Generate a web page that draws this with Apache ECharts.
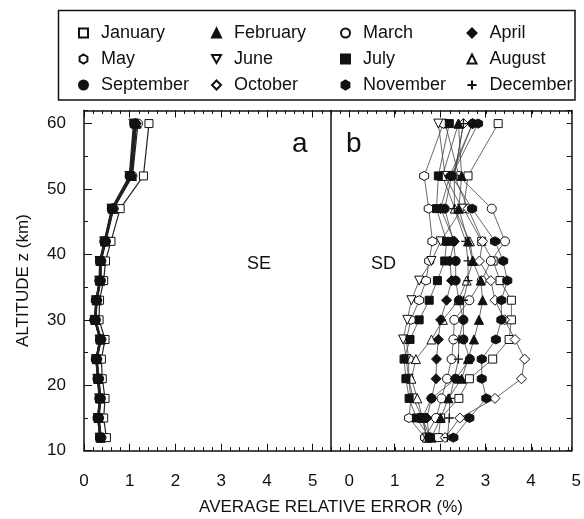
<!DOCTYPE html>
<html>
<head>
<meta charset="utf-8">
<script src="https://cdn.jsdelivr.net/npm/echarts@6/dist/echarts.min.js"></script>
<style>
  html, body { margin: 0; padding: 0; background: #fff; }
  #chart { width: 584px; height: 519px; }
</style>
</head>
<body>
<div id="chart"></div>
<script>
// Altitude levels (km)
const altitudes = [12, 15, 18, 21, 24, 27, 30, 33, 36, 39, 42, 47, 52, 60];

const months = ['January', 'February', 'March', 'April', 'May', 'June',
  'July', 'August', 'September', 'October', 'November', 'December'];

// Panel a: SE (%) per month, one value per altitude level
const seJanuary   = [0.49, 0.43, 0.46, 0.40, 0.38, 0.46, 0.33, 0.34, 0.43, 0.47, 0.59, 0.79, 1.30, 1.42];
const seFebruary  = [0.37, 0.32, 0.36, 0.32, 0.28, 0.37, 0.25, 0.28, 0.36, 0.37, 0.47, 0.64, 1.05, 1.15];
const seMarch     = [0.38, 0.33, 0.37, 0.33, 0.29, 0.38, 0.26, 0.29, 0.37, 0.38, 0.48, 0.65, 1.06, 1.18];
const seApril     = [0.36, 0.31, 0.35, 0.31, 0.27, 0.36, 0.24, 0.27, 0.35, 0.36, 0.46, 0.62, 1.02, 1.12];
const seMay       = [0.35, 0.30, 0.34, 0.30, 0.26, 0.35, 0.23, 0.26, 0.34, 0.35, 0.45, 0.61, 1.00, 1.10];
const seJune      = [0.34, 0.30, 0.33, 0.29, 0.26, 0.34, 0.23, 0.26, 0.33, 0.34, 0.44, 0.60, 0.99, 1.08];
const seJuly      = [0.35, 0.31, 0.34, 0.30, 0.27, 0.35, 0.24, 0.27, 0.34, 0.35, 0.45, 0.61, 1.01, 1.10];
const seAugust    = [0.36, 0.32, 0.35, 0.31, 0.28, 0.36, 0.25, 0.28, 0.35, 0.36, 0.46, 0.63, 1.03, 1.13];
const seSeptember = [0.35, 0.30, 0.34, 0.30, 0.26, 0.35, 0.23, 0.26, 0.34, 0.35, 0.45, 0.62, 1.01, 1.11];
const seOctober   = [0.37, 0.33, 0.36, 0.32, 0.28, 0.37, 0.25, 0.28, 0.36, 0.37, 0.47, 0.64, 1.04, 1.14];
const seNovember  = [0.36, 0.31, 0.35, 0.31, 0.27, 0.36, 0.24, 0.27, 0.35, 0.36, 0.46, 0.62, 1.02, 1.12];
const seDecember  = [0.37, 0.32, 0.36, 0.32, 0.28, 0.37, 0.25, 0.28, 0.36, 0.37, 0.47, 0.63, 1.04, 1.14];

// Panel b: SD (%) per month
const sdJanuary   = [1.95, 2.00, 2.40, 2.63, 3.14, 3.50, 3.55, 3.55, 3.30, 3.15, 2.90, 2.50, 2.60, 3.26];
const sdFebruary  = [1.80, 2.00, 2.17, 2.46, 2.60, 2.73, 2.84, 2.92, 2.88, 2.70, 2.60, 2.40, 2.46, 2.39];
const sdMarch     = [1.66, 1.90, 2.02, 2.14, 2.24, 2.28, 2.30, 2.63, 2.90, 3.10, 3.41, 3.12, 2.40, 2.10];
const sdApril     = [1.75, 1.70, 1.80, 1.90, 1.91, 1.95, 2.00, 2.13, 2.24, 2.20, 2.30, 2.00, 2.20, 2.70];
const sdMay       = [1.66, 1.31, 1.35, 1.30, 1.30, 1.25, 1.35, 1.53, 1.68, 1.75, 1.82, 1.74, 1.64, 2.06];
const sdJune      = [1.70, 1.60, 1.40, 1.30, 1.25, 1.18, 1.27, 1.36, 1.53, 1.80, 2.00, 2.47, 2.10, 1.95];
const sdJuly      = [1.75, 1.47, 1.31, 1.24, 1.20, 1.33, 1.53, 1.75, 1.93, 2.09, 2.13, 1.91, 1.95, 2.19];
const sdAugust    = [1.70, 1.60, 1.49, 1.36, 1.46, 1.80, 2.05, 2.39, 2.57, 2.71, 2.64, 2.31, 2.04, 2.39];
const sdSeptember = [1.77, 1.60, 1.80, 2.33, 2.64, 2.50, 2.50, 2.40, 2.33, 2.33, 2.28, 2.09, 2.24, 2.70];
const sdOctober   = [2.10, 2.42, 3.19, 3.77, 3.84, 3.63, 3.40, 3.19, 3.10, 2.85, 2.92, 2.60, 2.30, 2.50];
const sdNovember  = [2.28, 2.63, 3.00, 2.90, 2.90, 3.21, 3.33, 3.33, 3.46, 3.37, 3.19, 2.69, 2.24, 2.82];
const sdDecember  = [2.15, 2.19, 2.20, 2.30, 2.39, 2.40, 2.50, 2.50, 2.60, 2.60, 2.55, 2.30, 2.30, 2.50];

const seValues = [seJanuary, seFebruary, seMarch, seApril, seMay, seJune,
  seJuly, seAugust, seSeptember, seOctober, seNovember, seDecember];
const sdValues = [sdJanuary, sdFebruary, sdMarch, sdApril, sdMay, sdJune,
  sdJuly, sdAugust, sdSeptember, sdOctober, sdNovember, sdDecember];

// Axis tick labels
const xTickLabels = [0, 1, 2, 3, 4, 5];
const yTickLabels = [10, 20, 30, 40, 50, 60];

// Marker shapes, one per month
const HEX = 'path://M0,-1L0.866,-0.5L0.866,0.5L0,1L-0.866,0.5L-0.866,-0.5Z';
const DOWN_TRI = 'path://M-1,-0.9L1,-0.9L0,0.9Z';
const PLUS = 'path://M-1,0L1,0M0,-1L0,1';
const markers = [
  { symbol: 'rect', filled: false },       // January
  { symbol: 'triangle', filled: true },    // February
  { symbol: 'circle', filled: false },     // March
  { symbol: 'diamond', filled: true },     // April
  { symbol: HEX, filled: false },          // May
  { symbol: DOWN_TRI, filled: false },     // June
  { symbol: 'rect', filled: true },        // July
  { symbol: 'triangle', filled: false },   // August
  { symbol: 'circle', filled: true },      // September
  { symbol: 'diamond', filled: false },    // October
  { symbol: HEX, filled: true },           // November
  { symbol: PLUS, filled: false, plus: true } // December
];

const FONT = '"Liberation Sans", Arial, sans-serif';
const INK = '#111';

const PLOT_TOP = 110.5;
const PLOT_H = 340.2;

function itemStyleFor(m) {
  if (m.plus) return { color: 'none', borderColor: INK, borderWidth: 1.3 };
  return m.filled
    ? { color: INK, borderColor: INK, borderWidth: 1 }
    : { color: '#fff', borderColor: INK, borderWidth: 1 };
}

function makeSeries(values, xIdx, yIdx, lineWidth, lineColor) {
  return months.map((name, i) => ({
    name: name,
    type: 'line',
    xAxisIndex: xIdx,
    yAxisIndex: yIdx,
    data: altitudes.map((a, k) => [values[i][k], a]),
    symbol: markers[i].symbol,
    symbolSize: markers[i].symbol === 'rect' ? 8 : (markers[i].symbol === 'diamond' ? 10 : 9),
    showAllSymbol: true,
    lineStyle: { color: lineColor, width: lineWidth },
    itemStyle: itemStyleFor(markers[i]),
    emphasis: { disabled: true },
    animation: false,
    z: markers[i].filled ? 3 : 2
  }));
}

// Frame axes with minor ticks every 0.2
function frameX(grid, pos, min, max) {
  return {
    type: 'value', gridIndex: grid, position: pos, min: min, max: max, interval: 0.2,
    axisLine: { show: true, onZero: false, lineStyle: { color: INK, width: 1.5 } },
    axisTick: { show: true, inside: true, length: 3.5, lineStyle: { color: INK, width: 1 } },
    axisLabel: { show: false },
    splitLine: { show: false }
  };
}
// Overlay axes carrying integer ticks and labels
function majorX(grid, pos, withLabels, tickValues) {
  return {
    type: 'value', gridIndex: grid, position: pos, min: 0, max: 5, interval: 1,
    axisLine: { show: false },
    axisTick: { show: true, inside: true, length: 7, lineStyle: { color: INK, width: 1 },
      customValues: tickValues },
    axisLabel: withLabels
      ? { show: true, customValues: xTickLabels, margin: 22, fontFamily: FONT, fontSize: 17, color: INK }
      : { show: false },
    splitLine: { show: false }
  };
}

const option = {
  backgroundColor: '#fff',
  animation: false,
  grid: [
    { left: 84, top: PLOT_TOP, width: 247, height: PLOT_H },
    { left: 331, top: PLOT_TOP, width: 240.7, height: PLOT_H },
    { left: 84, top: PLOT_TOP, width: 228.7, height: PLOT_H },
    { left: 349.3, top: PLOT_TOP, width: 228.5, height: PLOT_H }
  ],
  xAxis: [
    frameX(0, 'bottom', 0, 5.4),
    frameX(0, 'top', 0, 5.4),
    frameX(1, 'bottom', -0.4, 4.87),
    frameX(1, 'top', -0.4, 4.87),
    majorX(2, 'bottom', true, [0, 1, 2, 3, 4, 5]),
    majorX(2, 'top', false, [0, 1, 2, 3, 4, 5]),
    majorX(3, 'bottom', true, [0, 1, 2, 3, 4]),
    majorX(3, 'top', false, [0, 1, 2, 3, 4])
  ],
  yAxis: [
    {
      type: 'value', gridIndex: 0, position: 'left', min: 10, max: 62, interval: 5,
      axisLine: { show: true, onZero: false, lineStyle: { color: INK, width: 1.5 } },
      axisTick: { show: true, inside: true, length: 4, lineStyle: { color: INK } },
      axisLabel: { show: true, customValues: yTickLabels, margin: 18, fontFamily: FONT, fontSize: 17, color: INK },
      splitLine: { show: false },
      name: 'ALTITUDE z (km)', nameLocation: 'middle', nameRotate: 90, nameGap: 52,
      nameTextStyle: { fontFamily: FONT, fontSize: 17, color: INK }
    },
    {
      type: 'value', gridIndex: 1, position: 'left', min: 10, max: 62, interval: 5,
      axisLine: { show: true, onZero: false, lineStyle: { color: INK, width: 1.5 } },
      axisTick: { show: false }, axisLabel: { show: false }, splitLine: { show: false }
    },
    {
      type: 'value', gridIndex: 1, position: 'right', min: 10, max: 62, interval: 5,
      axisLine: { show: true, onZero: false, lineStyle: { color: INK, width: 1.5 } },
      axisTick: { show: true, inside: true, length: 5, lineStyle: { color: INK } },
      axisLabel: { show: false }, splitLine: { show: false }
    },
    {
      // longer ticks every 10 km on the left frame
      type: 'value', gridIndex: 2, position: 'left', min: 10, max: 62, interval: 10,
      axisLine: { show: false },
      axisTick: { show: true, inside: true, length: 8, lineStyle: { color: INK },
        customValues: yTickLabels },
      axisLabel: { show: false }, splitLine: { show: false }
    },
    { type: 'value', gridIndex: 3, min: 10, max: 62, show: false }
  ],
  legend: [
    ['January', 'May', 'September'],
    ['February', 'June', 'October'],
    ['March', 'July', 'November'],
    ['April', 'August', 'December']
  ].map((names, c) => ({
    orient: 'vertical',
    left: [73, 206, 335, 460][c],
    top: 19,
    itemWidth: 9,
    itemHeight: 9,
    itemGap: 8,
    selectedMode: false,
    data: names.map(n => ({ name: n, icon: markers[months.indexOf(n)].symbol })),
    textStyle: { fontFamily: FONT, fontSize: 18, color: INK, lineHeight: 18, padding: [0, 0, 0, 8] }
  })),
  graphic: [
    { type: 'rect', shape: { x: 58.5, y: 10.5, width: 516.5, height: 89.5 },
      style: { fill: 'none', stroke: INK, lineWidth: 1.5 }, silent: true },
    { type: 'text', left: 292, top: 130, style: { text: 'a', font: '28px ' + FONT, fill: INK } },
    { type: 'text', left: 346, top: 130, style: { text: 'b', font: '28px ' + FONT, fill: INK } },
    { type: 'text', left: 247, top: 255, style: { text: 'SE', font: '18px ' + FONT, fill: INK } },
    { type: 'text', left: 371, top: 255, style: { text: 'SD', font: '18px ' + FONT, fill: INK } },
    { type: 'text', x: 331, y: 507, style: { text: 'AVERAGE RELATIVE ERROR (%)', font: '17px ' + FONT,
      fill: INK, align: 'center', verticalAlign: 'middle' } }
  ],
  series: [].concat(
    makeSeries(seValues, 0, 0, 1.2, '#222'),
    makeSeries(sdValues, 2, 1, 0.8, '#444')
  )
};

const chart = echarts.init(document.getElementById('chart'), null, { renderer: 'canvas' });
chart.setOption(option);
</script>
</body>
</html>
